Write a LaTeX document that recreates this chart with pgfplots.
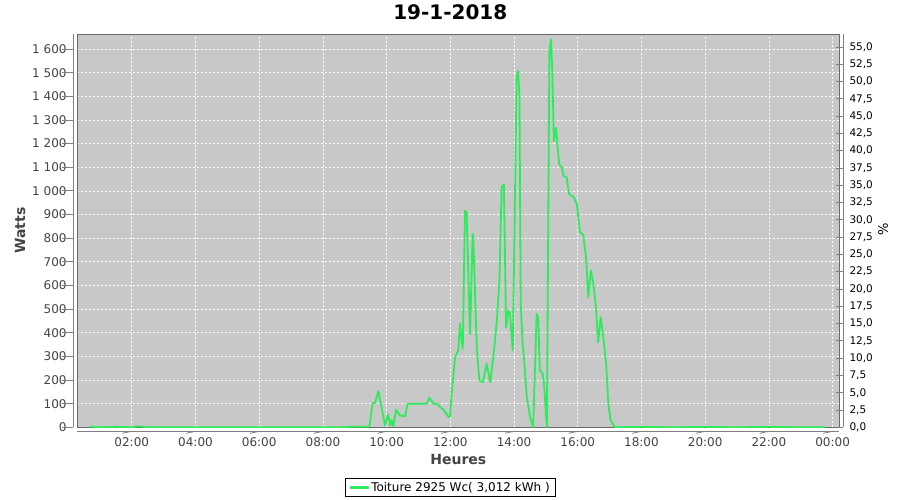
\documentclass[border=0pt]{standalone}
\usepackage{pgfplots}
\pgfplotsset{compat=1.18}
\usepackage{fontspec}
\setmainfont{DejaVu Sans}
\definecolor{plotbg}{RGB}{200,200,200}
\definecolor{framegray}{RGB}{105,105,105}
\definecolor{axisgray}{RGB}{128,128,128}
\definecolor{tickgray}{RGB}{68,68,68}
\definecolor{linegreen}{RGB}{45,235,90}
\begin{document}
\begin{tikzpicture}
\path[use as bounding box, fill=white] (0,0) rectangle (900bp,500bp);
\begin{axis}[
  at={(77.3bp,72.7bp)}, anchor=south west,
  scale only axis, width=762bp, height=393.3bp,
  xmin=0.29, xmax=24.21, ymin=0, ymax=1663.6,
  axis background/.style={fill=plotbg},
  axis line style={draw=framegray, line width=0.8bp},
  /pgf/number format/assume math mode=true,
  xtick={2,4,...,24},
  xticklabels={02:00,04:00,06:00,08:00,10:00,12:00,14:00,16:00,18:00,20:00,22:00,00:00},
  ytick={0,100,...,1600},
  yticklabels={0,100,200,300,400,500,600,700,800,900,1\ 000,1\ 100,1\ 200,1\ 300,1\ 400,1\ 500,1\ 600},
  tick style={draw=none},
  grid=major,
  major grid style={white, dash pattern=on 2bp off 2bp, line width=0.7bp},
  xticklabel style={anchor=north, inner sep=0pt, yshift=-10bp, text=tickgray, font=\fontsize{12bp}{14bp}\selectfont},
  yticklabel style={anchor=east, inner sep=0pt, xshift=-10.5bp, text=tickgray, font=\fontsize{12bp}{14bp}\selectfont},
  xlabel={Heures}, ylabel={Watts},
  xlabel style={at={(axis description cs:0.5,-0.0831)}, anchor=center, inner sep=0pt, text=tickgray, font=\bfseries\fontsize{14bp}{16bp}\selectfont},
  ylabel style={at={(axis description cs:-0.0752,0.5004)}, anchor=center, inner sep=0pt, text=tickgray, font=\bfseries\fontsize{14bp}{16bp}\selectfont},
  title={19-1-2018},
  title style={at={(axis description cs:0.4895,1.0547)}, anchor=center, yshift=-6pt, inner sep=0pt, font=\bfseries\fontsize{20bp}{24bp}\selectfont},
  legend style={at={(axis description cs:0.4898,-0.1531)}, anchor=center, draw=black,
    inner xsep=4.5bp, inner ysep=2.5bp, font=\fontsize{12bp}{14bp}\selectfont,
    nodes={inner sep=1.2bp}},
  legend image code/.code={\fill[linegreen] (0bp,-0.9bp) rectangle (16.7bp,0.9bp);},
]
\addplot[linegreen, line width=1.8bp, line join=round] coordinates {
(0.69,3) (1.00,0) (1.50,2) (2.00,0) (2.20,4) (2.50,0) (3.50,0) (4.50,0) (5.50,0)
(6.50,0) (7.50,0) (8.50,0) (9.00,3) (9.30,2) (9.46,3)
(9.56,100) (9.64,105) (9.74,153) (9.95,8) (10.05,55) (10.11,8) (10.16,30) (10.21,4)
(10.30,75) (10.42,50) (10.58,46) (10.66,100) (11.26,100) (11.34,125) (11.47,100)
(11.59,100) (11.68,86) (11.78,75) (11.94,44) (11.99,44) (12.04,142) (12.15,297)
(12.25,325) (12.30,438) (12.39,332) (12.46,916) (12.51,909) (12.62,395) (12.70,818)
(12.72,803) (12.83,339) (12.91,198) (13.02,191) (13.14,269) (13.25,191) (13.35,297)
(13.46,452) (13.54,620) (13.61,1014) (13.68,1028) (13.75,423) (13.82,494) (13.87,480)
(13.96,325) (14.00,691) (14.08,1479) (14.13,1507) (14.17,1394) (14.21,522) (14.27,353)
(14.31,297) (14.40,128) (14.50,44) (14.60,0) (14.71,480) (14.76,466) (14.81,241)
(14.90,226) (14.94,184) (15.03,0) (15.11,1591) (15.16,1641) (15.20,1507) (15.25,1211)
(15.32,1267) (15.36,1197) (15.42,1113) (15.50,1099) (15.55,1064) (15.65,1057)
(15.73,986) (15.81,979) (15.88,972) (15.97,944) (16.07,824) (16.17,815) (16.26,719)
(16.33,550) (16.41,663) (16.49,607) (16.57,508) (16.64,360) (16.72,466) (16.80,381)
(16.89,269) (16.96,100) (17.03,30) (17.17,0) (18.00,2) (19.00,0) (20.00,2) (21.00,0)
(22.00,2) (23.00,0) (23.76,0)
};
\addlegendentry{\hspace{1.5bp}Toiture 2925 Wc( 3,012 kWh )}
\end{axis}
\begin{axis}[
  at={(77.3bp,72.7bp)}, anchor=south west,
  scale only axis, width=762bp, height=393.3bp,
  xmin=0.29, xmax=24.21, ymin=0, ymax=56.876,
  clip=false,
  axis line style={draw=none},
  tick style={draw=none},
  xtick=\empty,
  ytick={0,2.5,...,55},
  yticklabels={{0,0},{2,5},{5,0},{7,5},{10,0},{12,5},{15,0},{17,5},{20,0},{22,5},{25,0},{27,5},{30,0},{32,5},{35,0},{37,5},{40,0},{42,5},{45,0},{47,5},{50,0},{52,5},{55,0}},
  yticklabel pos=right,
  yticklabel style={anchor=west, inner sep=0pt, xshift=10bp, text=black, font=\fontsize{10.5bp}{12bp}\selectfont},
  ylabel={\%},
  ylabel style={at={(axis description cs:1.0574,0.504)}, anchor=center, inner sep=0pt, font=\fontsize{13bp}{15bp}\selectfont},
]
% offset axis lines (JFreeChart style)
\draw[axisgray, line width=0.8bp] ([xshift=-4bp]rel axis cs:0,0) -- ([xshift=-4bp]rel axis cs:0,1);
\draw[axisgray, line width=0.8bp] ([yshift=-4bp]rel axis cs:0,0) -- ([yshift=-4bp]rel axis cs:1,0);
\draw[axisgray, line width=0.8bp] ([xshift=4bp]rel axis cs:1,0) -- ([xshift=4bp]rel axis cs:1,1);
\pgfplotsinvokeforeach{0,1,...,16}{
  \draw[axisgray, line width=0.8bp] ([xshift=-4bp]axis cs:0.29,{#1*100/29.25}) -- ++(-2bp,0);
}
\pgfplotsinvokeforeach{0,2.5,...,55}{
  \draw[axisgray, line width=0.8bp] ([xshift=4bp]axis cs:24.21,#1) -- ++(2bp,0);
}
\pgfplotsinvokeforeach{2,4,...,24}{
  \draw[axisgray, line width=0.8bp] ([yshift=-4bp]axis cs:#1,0) -- ++(0,-2bp);
}
\end{axis}
\end{tikzpicture}
\end{document}
